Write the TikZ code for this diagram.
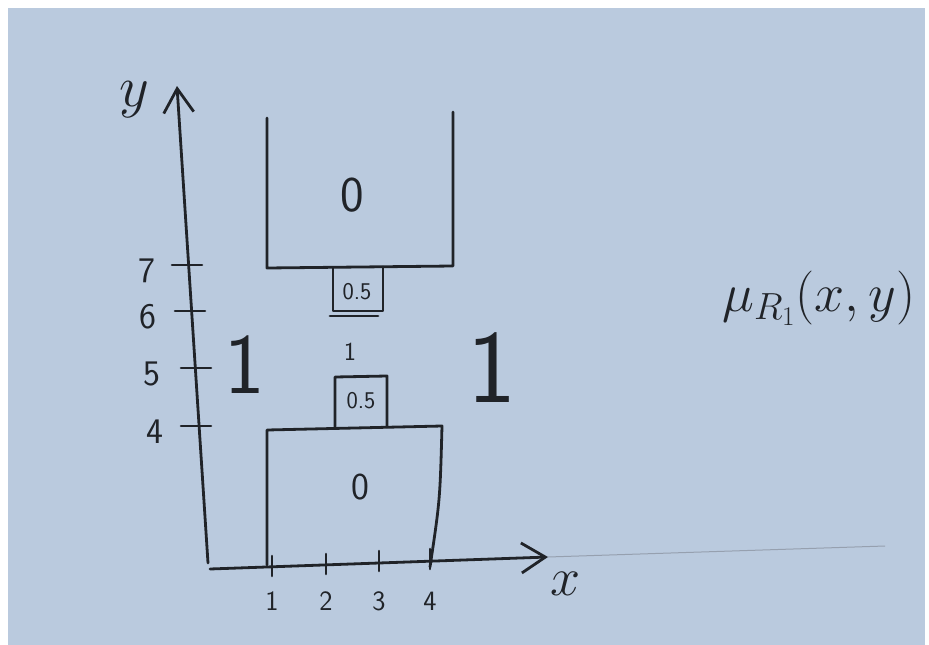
\RequirePackage{fix-cm}
\documentclass[tikz,border=0pt]{standalone}
\usepackage{fontspec}
\usetikzlibrary{arrows.meta}
\definecolor{paper}{RGB}{186,202,222}
\definecolor{inkc}{RGB}{32,35,40}
\definecolor{faintc}{RGB}{150,160,175}
\begin{document}
\begin{tikzpicture}[x=1pt,y=-1pt,
  ink/.style={draw=inkc, line width=2.8pt, line cap=round, line join=round},
  axisline/.style={ink, -{Straight Barb[length=24pt,width=30pt,line width=2.8pt]}},
  tickline/.style={ink, line width=2.6pt},
  lab/.style={text=inkc, inner sep=0pt, font=\fontsize{#1}{#1}\selectfont\sffamily},
  mlab/.style={text=inkc, inner sep=0pt, font=\fontsize{#1}{#1}\selectfont}]
\fill[white] (0,0) rectangle (929,645);
\fill[paper] (8,8) rectangle (925,645);
\useasboundingbox (0,0) rectangle (929,645);

% axes
\coordinate (yb) at (208,563);
\coordinate (ytop) at (177,86);
\coordinate (xb) at (210,569);
\coordinate (xend) at (548,557);
\coordinate (faintend) at (885,546);
\draw[draw=faintc, line width=1pt] (xend) -- (faintend);
\draw[axisline] (yb) -- (ytop);
\draw[axisline] (xb) -- (xend);
\node[mlab=58] (ylab) at (134,100) {$y$};
\node[mlab=54] (xlab) at (566,584) {$x$};

% x ticks
\foreach \n/\x/\y/\t in {1/272/566/1, 2/326/564/2, 3/379/561/3, 4/430/559/4}{
  \coordinate (xt\n) at (\x,\y);
  \draw[tickline] ([yshift=-10pt]xt\n) -- ([yshift=10pt]xt\n);
  \node[lab=28] (xl\n) at (\x,601) {\t};
}
% y ticks
\foreach \n/\x/\y/\t/\lx in {7/187/265/7/147, 6/190/311/6/148, 5/196/368/5/152, 4/196/426/4/155}{
  \coordinate (yt\n) at (\x,\y);
  \draw[tickline] ([xshift=-15pt]yt\n) -- ([xshift=15pt]yt\n);
  \node[lab=36] (yl\n) at (\lx,\y+6) {\t};
}

% upper open box
\draw[ink] (267,118) -- (267,268) -- (453,266) -- (453,112);
\node[lab=50] (zeroup) at (352,195) {0};
% upper small box
\draw[ink] (333,268) -- (333,311) -- (383,311) -- (383,267);
\draw[ink] (330,316) -- (378,316);
\node[lab=24] (halfup) at (357,292) {0.5};
% middle one
\node[lab=26] (onemid) at (350,352) {1};
% lower small box
\draw[ink] (335,428) -- (335,377) -- (387,376) -- (387,427);
\node[lab=24] (halflow) at (361,401) {0.5};
% lower box
\draw[ink] (267,565) -- (267,430) -- (442,426) .. controls (440,500) .. (430,567);
\node[lab=38] (zerolow) at (360,487) {0};

% big ones
\node[lab=86] (oneleft) at (245,365) {1};
\node[lab=104] (oneright) at (492,368) {1};

% membership label
\node[mlab=54, anchor=west] (mu) at (722,298) {$\mu_{R_1}(x,y)$};
\end{tikzpicture}
\end{document}
